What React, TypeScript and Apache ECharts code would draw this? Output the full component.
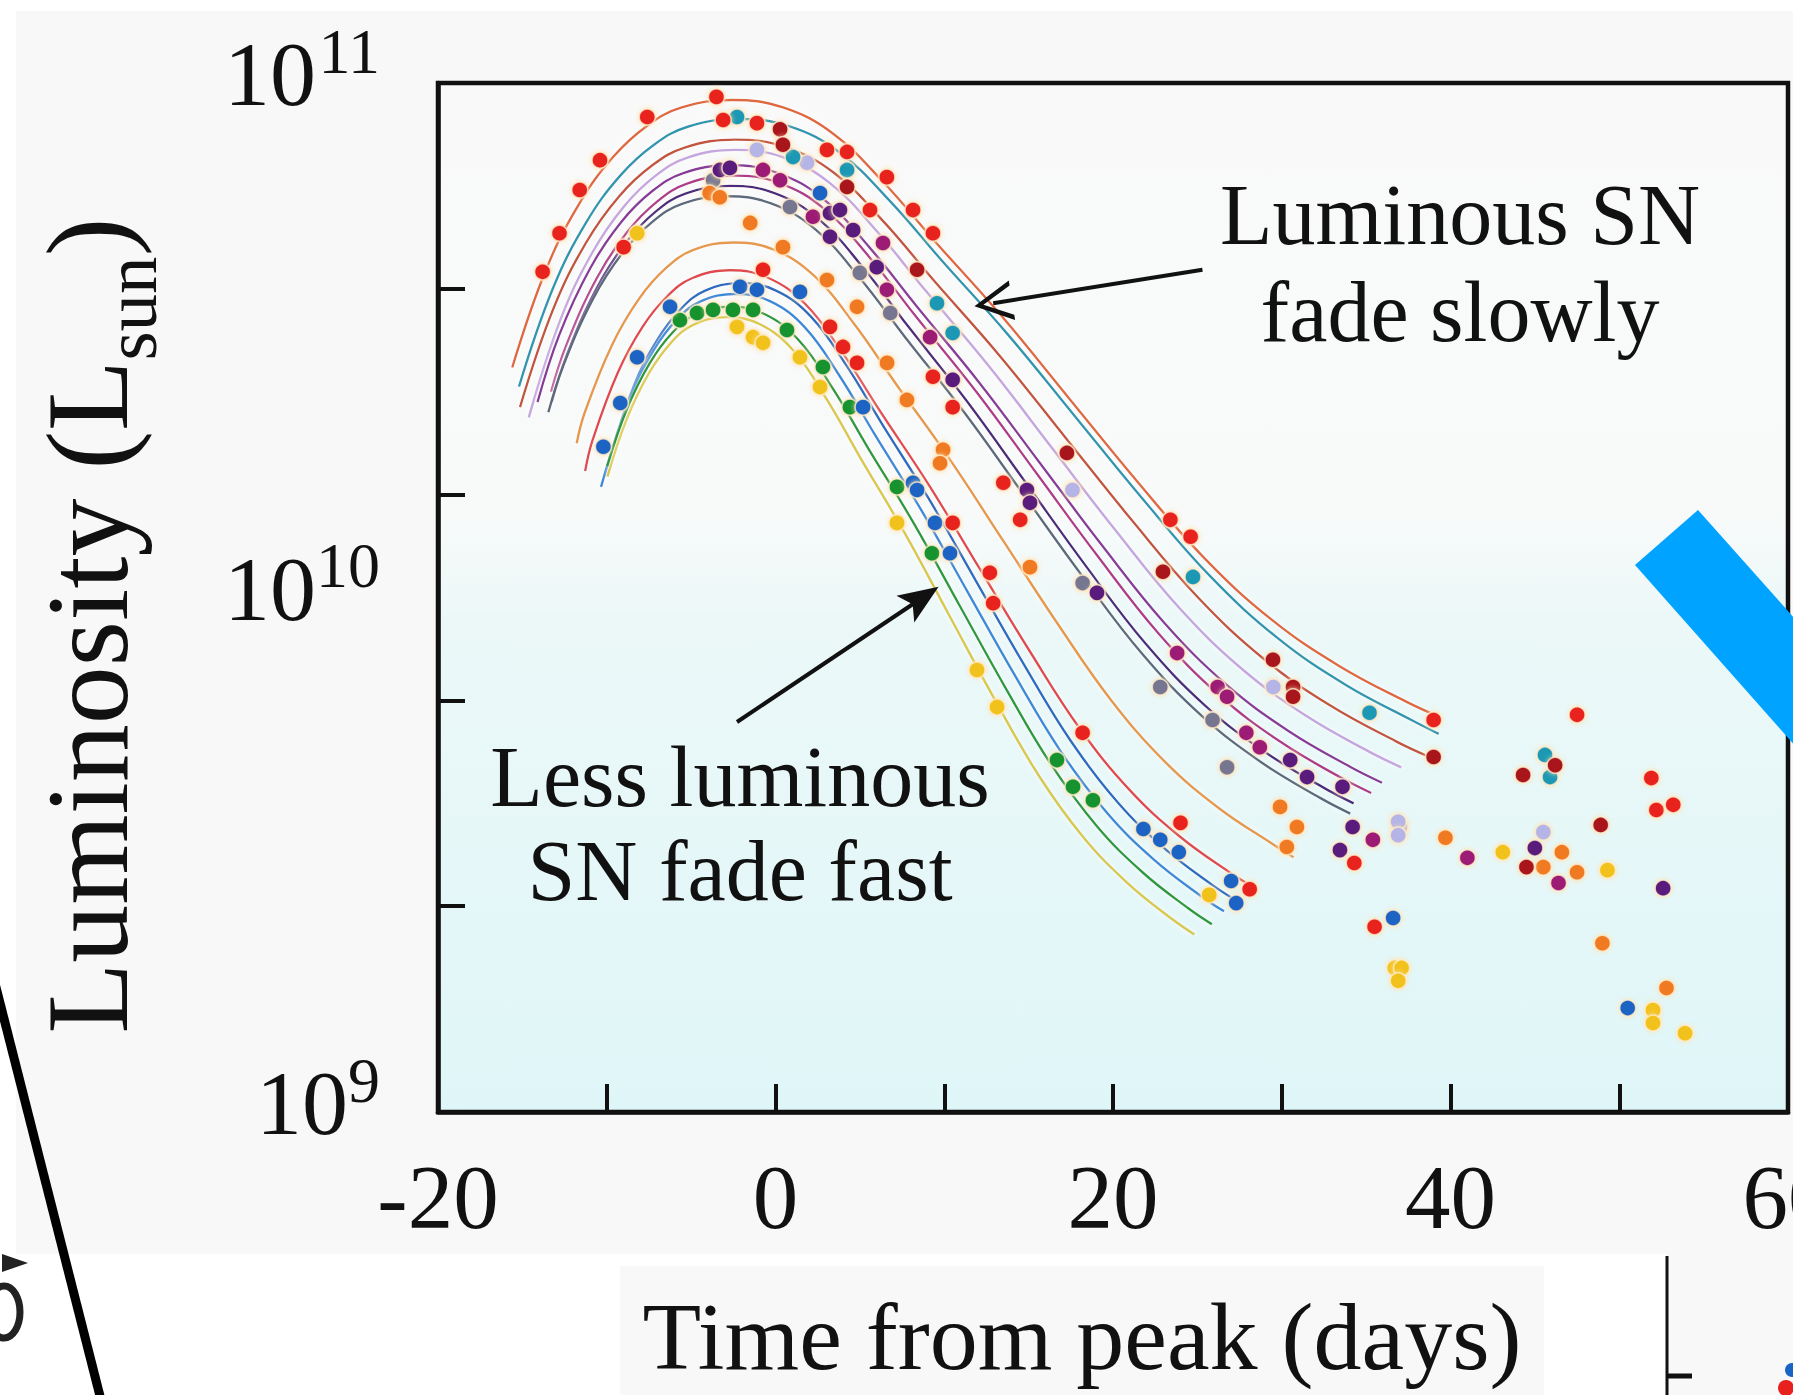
import React, { useEffect, useRef } from "react";
import * as echarts from "echarts";

const FONT = '"Liberation Serif", "Times New Roman", serif';

// Axis ranges (days from peak, log10 of luminosity in L_sun)
const xRange = [-20, 60];
const yRange = [9, 11];
const yDecadeLabels = [9, 10, 11];

// ---- Fitted light curves: [days from peak, log10(L / L_sun)] ----
const lineTopOrange = [[-15.6,10.447],[-13.6,10.637],[-11.6,10.767],[-9.6,10.857],[-7.6,10.917],[-5.6,10.952],[-2.6,10.967],[0.4,10.953],[3.4,10.902],[6.4,10.807],[9.4,10.694],[13.4,10.547],[17.4,10.387],[21.4,10.227],[25.4,10.077],[29.4,9.957],[33.4,9.867],[37.4,9.797],[39.4,9.767]];
const lineTopTeal = [[-15.2,10.41],[-13.2,10.6],[-11.2,10.73],[-9.2,10.82],[-7.2,10.88],[-5.2,10.915],[-2.2,10.93],[0.8,10.916],[3.8,10.865],[6.8,10.77],[9.8,10.657],[13.8,10.51],[17.8,10.35],[21.8,10.19],[25.8,10.04],[29.8,9.92],[33.8,9.83],[37.8,9.76],[39.3,9.735]];
const lineTopBrown = [[-15.14,10.37],[-13.18,10.56],[-11.22,10.69],[-9.26,10.78],[-7.3,10.84],[-5.34,10.875],[-2.4,10.89],[0.54,10.876],[3.48,10.825],[6.42,10.73],[9.36,10.617],[13.28,10.47],[17.2,10.31],[21.12,10.15],[25.04,10.0],[28.96,9.88],[32.88,9.79],[36.8,9.72],[38.76,9.69]];
const lineLavender = [[-14.62,10.35],[-12.74,10.54],[-10.86,10.67],[-8.98,10.76],[-7.1,10.82],[-5.22,10.855],[-2.4,10.87],[0.42,10.856],[3.24,10.805],[6.06,10.71],[8.88,10.597],[12.64,10.45],[16.4,10.29],[20.16,10.13],[23.92,9.98],[27.68,9.86],[31.44,9.77],[35.2,9.7],[37.08,9.67]];
const linePurple = [[-14.1,10.38],[-12.82,10.51],[-10.98,10.64],[-9.14,10.73],[-7.3,10.79],[-5.46,10.825],[-2.7,10.84],[0.06,10.826],[2.82,10.775],[5.58,10.68],[8.34,10.567],[12.02,10.42],[15.7,10.26],[19.38,10.1],[23.06,9.95],[26.74,9.83],[30.42,9.74],[34.1,9.67],[35.94,9.64]];
const lineMagenta = [[-13.3,10.4],[-12.4,10.49],[-10.6,10.62],[-8.8,10.71],[-7.0,10.77],[-5.2,10.805],[-2.5,10.82],[0.2,10.806],[2.9,10.755],[5.6,10.66],[8.3,10.547],[11.9,10.4],[15.5,10.24],[19.1,10.08],[22.7,9.93],[26.3,9.81],[29.9,9.72],[33.5,9.65],[35.3,9.62]];
const lineDarkPurple = [[-13.26,10.38],[-12.38,10.47],[-10.62,10.6],[-8.86,10.69],[-7.1,10.75],[-5.34,10.785],[-2.7,10.8],[-0.06,10.786],[2.58,10.735],[5.22,10.64],[7.86,10.527],[11.38,10.38],[14.9,10.22],[18.42,10.06],[21.94,9.91],[25.46,9.79],[28.98,9.7],[32.5,9.63],[34.26,9.6]];
const lineGray = [[-13.46,10.36],[-12.58,10.45],[-10.82,10.58],[-9.06,10.67],[-7.3,10.73],[-5.54,10.765],[-2.9,10.78],[-0.26,10.766],[2.38,10.715],[5.02,10.62],[7.66,10.507],[11.18,10.36],[14.7,10.2],[18.22,10.04],[21.74,9.89],[25.26,9.77],[28.78,9.68],[32.3,9.61],[34.06,9.58]];
const lineOrange = [[-11.78,10.3],[-11.3,10.36],[-9.7,10.49],[-8.1,10.58],[-6.5,10.64],[-4.9,10.675],[-2.5,10.69],[-0.1,10.676],[2.3,10.625],[4.7,10.53],[7.1,10.417],[10.3,10.27],[13.5,10.11],[16.7,9.95],[19.9,9.8],[23.1,9.68],[26.3,9.59],[29.5,9.52],[30.7,9.495]];
const lineRed = [[-11.28,10.246],[-10.84,10.306],[-9.36,10.436],[-7.88,10.526],[-6.4,10.586],[-4.92,10.621],[-2.7,10.636],[-0.48,10.622],[1.74,10.571],[3.96,10.476],[6.18,10.363],[9.14,10.216],[12.1,10.056],[15.06,9.896],[18.02,9.746],[20.98,9.626],[23.94,9.536],[26.9,9.466],[28.38,9.436]];
const lineBlue = [[-10.15,10.236],[-8.4,10.411],[-7.0,10.501],[-5.6,10.561],[-4.2,10.596],[-2.1,10.611],[0.0,10.597],[2.1,10.546],[4.2,10.451],[6.3,10.338],[9.1,10.191],[11.9,10.031],[14.7,9.871],[17.5,9.721],[20.3,9.601],[23.1,9.511],[25.9,9.441],[27.3,9.411]];
const lineBlue2 = [[-10.34,10.215],[-8.61,10.39],[-7.23,10.48],[-5.85,10.54],[-4.47,10.575],[-2.4,10.59],[-0.33,10.576],[1.74,10.525],[3.81,10.43],[5.88,10.317],[8.64,10.17],[11.4,10.01],[14.16,9.85],[16.92,9.7],[19.68,9.58],[22.44,9.49],[25.2,9.42],[26.58,9.39]];
const lineGreen = [[-9.98,10.255],[-8.82,10.365],[-7.46,10.455],[-6.1,10.515],[-4.74,10.55],[-2.7,10.565],[-0.66,10.551],[1.38,10.5],[3.42,10.405],[5.46,10.292],[8.18,10.145],[10.9,9.985],[13.62,9.825],[16.34,9.675],[19.06,9.555],[21.78,9.465],[24.5,9.395],[25.86,9.365]];
const lineYellow = [[-9.96,10.235],[-8.84,10.345],[-7.52,10.435],[-6.2,10.495],[-4.88,10.53],[-2.9,10.545],[-0.92,10.531],[1.06,10.48],[3.04,10.385],[5.02,10.272],[7.66,10.125],[10.3,9.965],[12.94,9.805],[15.58,9.655],[18.22,9.535],[20.86,9.445],[23.5,9.375],[24.82,9.345]];

// ---- Observed photometry points: [days from peak, log10(L / L_sun)] ----
const ptsRed = [[-13.8,10.633],[-12.8,10.708],[-11.6,10.792],[-10.4,10.85],[-7.6,10.934],[-3.5,10.973],[-3.1,10.928],[-1.1,10.922],[3.05,10.87],[4.24,10.866],[5.6,10.753],[6.6,10.817],[8.15,10.753],[9.33,10.708],[-9.0,10.681],[-0.74,10.637],[3.23,10.526],[4.0,10.487],[4.83,10.456],[9.33,10.429],[10.5,10.37],[10.5,10.145],[12.7,10.048],[12.9,9.989],[13.5,10.223],[14.5,10.151],[23.4,10.151],[24.6,10.118],[18.2,9.737],[24.0,9.562],[28.1,9.433],[35.5,9.36],[34.3,9.484],[39.0,9.762],[47.5,9.772],[51.9,9.649],[52.2,9.587],[53.2,9.597]];
const ptsDarkRed = [[0.27,10.91],[0.44,10.88],[4.24,10.798],[8.39,10.637],[17.27,10.281],[22.96,10.05],[29.48,9.879],[30.67,9.826],[30.67,9.807],[39.0,9.69],[44.3,9.655],[46.2,9.674],[48.9,9.558],[44.5,9.476]];
const ptsTeal = [[-2.28,10.934],[1.04,10.856],[4.24,10.831],[9.57,10.572],[10.5,10.514],[24.74,10.04],[35.2,9.776],[45.6,9.694],[45.9,9.651]];
const ptsBlue = [[2.64,10.786],[-6.25,10.565],[-2.1,10.604],[-1.1,10.598],[1.45,10.594],[-8.2,10.467],[-9.2,10.378],[-10.2,10.293],[5.19,10.37],[8.15,10.223],[8.39,10.209],[9.45,10.145],[10.34,10.086],[21.8,9.55],[22.8,9.529],[23.9,9.505],[27.0,9.449],[27.3,9.406],[36.6,9.377],[50.5,9.202]];
const ptsGreen = [[-5.66,10.539],[-4.65,10.553],[-3.7,10.559],[-2.52,10.559],[-1.33,10.559],[0.68,10.52],[2.81,10.448],[4.41,10.37],[7.2,10.215],[9.27,10.086],[16.68,9.684],[17.63,9.632],[18.81,9.606]];
const ptsYellow = [[-8.2,10.708],[-2.28,10.526],[-1.33,10.506],[-0.74,10.495],[1.45,10.467],[2.64,10.409],[7.2,10.145],[11.94,9.859],[13.13,9.787],[25.7,9.422],[36.7,9.28],[37.1,9.28],[36.9,9.255],[43.1,9.505],[49.3,9.47],[52.0,9.198],[52.0,9.173],[53.9,9.153]];
const ptsOrange = [[-3.9,10.786],[-3.3,10.778],[-1.5,10.728],[0.44,10.681],[3.05,10.617],[4.83,10.565],[6.61,10.456],[7.79,10.384],[9.93,10.287],[9.75,10.261],[15.08,10.059],[29.9,9.593],[30.9,9.554],[30.3,9.515],[39.7,9.533],[46.6,9.505],[45.5,9.476],[47.5,9.466],[49.0,9.328],[52.8,9.241]];
const ptsPurple = [[-3.29,10.831],[-2.7,10.835],[3.23,10.747],[3.82,10.753],[3.23,10.701],[4.6,10.714],[6.0,10.642],[10.5,10.423],[14.9,10.209],[15.08,10.184],[19.05,10.009],[30.5,9.684],[31.5,9.651],[33.6,9.632],[34.2,9.554],[33.45,9.509],[45.0,9.513],[52.6,9.435]];
const ptsMagenta = [[-0.74,10.831],[0.27,10.811],[2.22,10.74],[6.37,10.689],[6.6,10.598],[9.16,10.506],[23.8,9.892],[26.2,9.826],[26.76,9.807],[27.9,9.737],[28.7,9.709],[35.4,9.529],[41.0,9.494],[46.4,9.445]];
const ptsGray = [[-3.7,10.811],[0.86,10.759],[5.0,10.631],[6.8,10.553],[18.2,10.028],[22.8,9.826],[25.9,9.762],[26.76,9.67]];
const ptsLavender = [[-1.1,10.87],[1.87,10.845],[17.6,10.209],[29.5,9.826],[37.0,9.554],[36.9,9.564],[36.9,9.538],[45.5,9.544]];

// Annotation arrows: [tail, tip] in data coordinates
const arrowSlow = [[25.3, 10.637], [12.9, 10.572]];
const arrowFast = [[-2.28, 9.758], [8.68, 9.999]];

const lineDefs: [number[][], string][] = [
  [lineTopOrange, "#e0683c"],
  [lineTopTeal, "#2f97b0"],
  [lineTopBrown, "#c4553e"],
  [lineLavender, "#c6a6de"],
  [linePurple, "#8a3a9a"],
  [lineMagenta, "#b03a8a"],
  [lineDarkPurple, "#4e2a7c"],
  [lineGray, "#5c6a7c"],
  [lineOrange, "#e6994a"],
  [lineRed, "#e04a4e"],
  [lineBlue, "#2a6cc0"],
  [lineBlue2, "#3a8ad8"],
  [lineYellow, "#d9c84a"],
  [lineGreen, "#2a9a3a"],
];

const pointDefs: [number[][], string][] = [
  [ptsLavender, "#b4b4e6"],
  [ptsGray, "#767690"],
  [ptsMagenta, "#9c1a74"],
  [ptsPurple, "#5a1a7c"],
  [ptsOrange, "#f07a24"],
  [ptsYellow, "#f2c21a"],
  [ptsGreen, "#13922e"],
  [ptsBlue, "#1a64c4"],
  [ptsTeal, "#1e98b4"],
  [ptsDarkRed, "#a8141e"],
  [ptsRed, "#e8201e"],
];

const INK = "#111";

export default function App() {
  const ref = useRef<HTMLDivElement>(null);
  useEffect(() => {
    document.body.style.margin = "0";
    if (!ref.current) return;
    const chart = echarts.init(ref.current, null, { renderer: "svg" });
    const series: any[] = [];
    lineDefs.forEach(([d, c]) => {
      series.push({
        type: "line",
        data: d,
        smooth: 0.4,
        showSymbol: false,
        symbol: "none",
        z: 2,
        silent: true,
        lineStyle: { color: c, width: 2.4, shadowColor: "rgba(255,255,255,0.95)", shadowBlur: 5 },
        emphasis: { disabled: true },
      });
    });
    pointDefs.forEach(([d, c]) => {
      series.push({
        type: "scatter",
        data: d,
        symbol: "circle",
        symbolSize: 16,
        z: 3,
        silent: true,
        itemStyle: {
          color: c,
          borderColor: "rgba(255,236,205,0.8)",
          borderWidth: 1.5,
          opacity: 1,
          shadowColor: "rgba(255,225,170,0.9)",
          shadowBlur: 5,
        },
        emphasis: { disabled: true },
      });
    });
    series.push({
      type: "line",
      data: [],
      silent: true,
      z: 5,
      markLine: {
        silent: true,
        animation: false,
        label: { show: false },
        lineStyle: { color: INK, width: 4, type: "solid" },
        emphasis: { disabled: true },
        data: [
          [
            { coord: arrowSlow[0], symbol: "none" },
            { coord: arrowSlow[1], symbol: "path://M0,100 L50,0 L100,100 L87,100 L50,24 L13,100 Z", symbolSize: [40, 38] },
          ],
          [
            { coord: arrowFast[0], symbol: "none" },
            { coord: arrowFast[1], symbol: "path://M0,100 L50,0 L100,100 L50,78 Z", symbolSize: [32, 40] },
          ],
        ],
      },
    });

    const hiddenAxis = {
      type: "value",
      min: yRange[0],
      max: yRange[1],
      position: "left",
      axisLine: { show: false },
      axisTick: { show: false },
      splitLine: { show: false },
    };

    const option: any = {
      animation: false,
      backgroundColor: "transparent",
      textStyle: { fontFamily: FONT },
      grid: {
        show: true,
        left: 438,
        top: 83,
        width: 1350,
        height: 1029,
        containLabel: false,
        outerBoundsMode: "none",
        borderColor: INK,
        borderWidth: 4.5,
        backgroundColor: new echarts.graphic.LinearGradient(0, 0, 0, 1, [
          { offset: 0, color: "#f9f9f9" },
          { offset: 0.42, color: "#f8fafa" },
          { offset: 0.52, color: "#ecf8f8" },
          { offset: 1, color: "#dff6f8" },
        ]),
      },
      xAxis: {
        type: "value",
        min: xRange[0],
        max: xRange[1],
        interval: 10,
        axisLine: { onZero: false, lineStyle: { color: INK, width: 4.5 } },
        axisTick: { show: true, inside: true, length: 28, lineStyle: { color: INK, width: 4 } },
        splitLine: { show: false },
        axisLabel: {
          formatter: (v: number) => (v % 20 === 0 ? String(v) : ""),
          fontFamily: FONT,
          fontSize: 91,
          color: INK,
          margin: 40,
          showMinLabel: true,
          showMaxLabel: true,
          hideOverlap: false,
        },
        name: "Time from peak (days)",
        nameLocation: "middle",
        nameGap: 176,
        nameTextStyle: { fontFamily: FONT, fontSize: 96, color: INK, padding: [0, 62, 0, 0] },
      },
      yAxis: [
        {
          type: "value",
          min: yRange[0],
          max: yRange[1],
          interval: 0.4,
          position: "left",
          axisLine: { show: true, onZero: false, lineStyle: { color: INK, width: 4.5 } },
          axisTick: { show: true, inside: true, length: 27, lineStyle: { color: INK, width: 4 } },
          axisLabel: { show: false },
          splitLine: { show: false },
          name: "{m|Luminosity (L}{gs| }{m|)}",
          nameLocation: "middle",
          nameRotate: 90,
          nameGap: 292,
          nameTextStyle: {
            fontFamily: FONT,
            fontSize: 116,
            color: INK,
            padding: [0, 56, 0, 0],
            rich: {
              m: { fontFamily: FONT, fontSize: 116, color: INK },
              gs: { fontFamily: FONT, fontSize: 75, width: 104 },
            },
          },
        },
        {
          // base "10" of the decade labels
          ...hiddenAxis,
          interval: 1,
          axisLabel: {
            show: true,
            margin: 58,
            verticalAlign: "bottom",
            lineHeight: 18,
            showMinLabel: true,
            showMaxLabel: true,
            formatter: (v: number) =>
              yDecadeLabels.indexOf(v) < 0 ? "" : String(v).length > 1 ? "{b|10}{g2| }" : "{b|10}{g1| }",
            rich: {
              b: { fontFamily: FONT, fontSize: 92, color: INK, lineHeight: 18 },
              g1: { fontFamily: FONT, fontSize: 64, width: 32, lineHeight: 18 },
              g2: { fontFamily: FONT, fontSize: 64, width: 64, lineHeight: 18 },
            },
          },
        },
        {
          // exponent of the decade labels, and the "sun" subscript of the title
          ...hiddenAxis,
          interval: 1,
          axisLabel: {
            show: true,
            margin: 58,
            verticalAlign: "bottom",
            lineHeight: 64,
            showMinLabel: true,
            showMaxLabel: true,
            fontFamily: FONT,
            fontSize: 64,
            color: INK,
            formatter: (v: number) => (yDecadeLabels.indexOf(v) < 0 ? "" : String(v)),
          },
          name: "{g1| }{s|sun}{g2| }",
          nameLocation: "middle",
          nameRotate: 90,
          nameGap: 270,
          nameTextStyle: {
            fontFamily: FONT,
            fontSize: 75,
            color: INK,
            padding: [0, 56, 0, 0],
            rich: {
              g1: { fontFamily: FONT, fontSize: 75, width: 673 },
              s: { fontFamily: FONT, fontSize: 75, color: INK },
              g2: { fontFamily: FONT, fontSize: 75, width: 39 },
            },
          },
        },
      ],
      graphic: [
        { type: "rect", z: -30, silent: true, shape: { x: 0, y: 0, width: 1793, height: 1395 }, style: { fill: "#ffffff" } },
        { type: "rect", z: -29, silent: true, shape: { x: 16, y: 11, width: 1800, height: 1243 }, style: { fill: "#f8f8f8" } },
        { type: "rect", z: -29, silent: true, shape: { x: 620, y: 1266, width: 924, height: 140 }, style: { fill: "#f8f8f8" } },
        { type: "rect", z: -29, silent: true, shape: { x: 1667, y: 1254, width: 140, height: 150 }, style: { fill: "#f8f8f8" } },
        { type: "line", z: 60, silent: true, shape: { x1: 1667, y1: 1256, x2: 1667, y2: 1400 }, style: { stroke: INK, lineWidth: 3 } },
        { type: "line", z: 60, silent: true, shape: { x1: 1667, y1: 1376, x2: 1692, y2: 1376 }, style: { stroke: INK, lineWidth: 5 } },
        { type: "circle", z: 60, silent: true, shape: { cx: 1792, cy: 1370, r: 7 }, style: { fill: "#1a64c4" } },
        { type: "circle", z: 60, silent: true, shape: { cx: 1786, cy: 1388, r: 8 }, style: { fill: "#e8201e" } },
        { type: "ellipse", z: 60, silent: true, shape: { cx: 4, cy: 1312, rx: 16, ry: 26 }, style: { fill: "none", stroke: "#222", lineWidth: 7 } },
        { type: "polygon", z: 60, silent: true, shape: { points: [[2, 1254], [28, 1263], [2, 1272]] }, style: { fill: "#222" } },
        { type: "line", z: 100, silent: true, shape: { x1: -16, y1: 940, x2: 101, y2: 1400 }, style: { stroke: "#000", lineWidth: 9 } },
        { type: "polygon", z: 100, silent: true, shape: { points: [[1698, 510], [1812, 638], [1812, 765], [1635, 565]] }, style: { fill: "#00a3ff" } },
        {
          type: "text", z: 50, silent: true, x: 1460, y: 263,
          style: { text: "Luminous SN\nfade slowly", font: `86px ${FONT}`, fill: INK, align: "center", verticalAlign: "middle", lineHeight: 97 },
        },
        {
          type: "text", z: 50, silent: true, x: 740, y: 824,
          style: { text: "Less luminous\nSN fade fast", font: `86px ${FONT}`, fill: INK, align: "center", verticalAlign: "middle", lineHeight: 94 },
        },
      ],
      series,
    };
    chart.setOption(option);
    return () => chart.dispose();
  }, []);
  return <div ref={ref} style={{ width: 1793, height: 1395 }} />;
}
